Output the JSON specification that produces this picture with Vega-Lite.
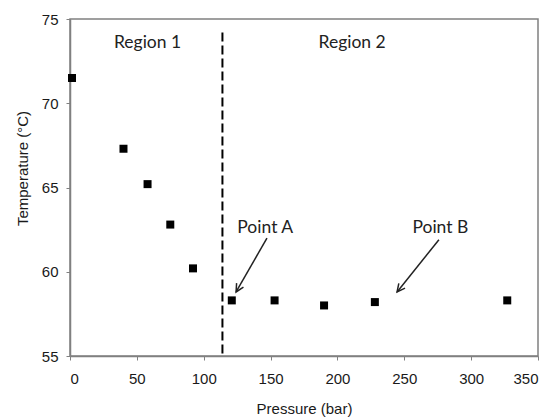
{
  "$schema": "https://vega.github.io/schema/vega-lite/v6.json",
  "width": 468,
  "height": 337,
  "autosize": {"type": "none"},
  "padding": {"left": 70, "top": 19, "right": 17, "bottom": 62},
  "background": "white",
  "config": {
    "view": {"stroke": "#808080", "strokeWidth": 1.5},
    "axis": {
      "grid": false,
      "domainColor": "#808080",
      "domainWidth": 1.5,
      "tickColor": "#808080",
      "tickSize": 4,
      "labelFont": "Liberation Sans",
      "labelFontSize": 15,
      "labelColor": "#1a1a1a",
      "titleFont": "Liberation Sans",
      "titleFontSize": 15,
      "titleFontWeight": "normal",
      "titleColor": "#1a1a1a"
    }
  },
  "datasets": {
    "points": [
      {"pressure": 1.5, "temperature": 71.5},
      {"pressure": 40, "temperature": 67.3},
      {"pressure": 58, "temperature": 65.2},
      {"pressure": 75, "temperature": 62.8},
      {"pressure": 92, "temperature": 60.2},
      {"pressure": 121, "temperature": 58.3},
      {"pressure": 153, "temperature": 58.3},
      {"pressure": 190, "temperature": 58.0},
      {"pressure": 228, "temperature": 58.2},
      {"pressure": 327, "temperature": 58.3}
    ],
    "divider": [{"pressure": 114, "temperature": 74.2, "temperature_end": 55}],
    "labels": [
      {"label": "Region 1", "pressure": 58, "temperature": 73.6},
      {"label": "Region 2", "pressure": 211, "temperature": 73.6},
      {"label": "Point A", "pressure": 146, "temperature": 62.6},
      {"label": "Point B", "pressure": 277, "temperature": 62.6}
    ],
    "arrows": [
      {"label": "Point A", "pressure": 147.3, "temperature": 62.0, "pressure_end": 124.2, "temperature_end": 58.8},
      {"label": "Point B", "pressure": 275.9, "temperature": 61.9, "pressure_end": 244.6, "temperature_end": 58.8}
    ]
  },
  "layer": [
    {
      "data": {"name": "points"},
      "mark": {"type": "point", "shape": "square", "filled": true, "color": "black", "opacity": 1, "size": 64},
      "encoding": {
        "x": {"field": "pressure", "type": "quantitative", "title": "Pressure (bar)",
              "scale": {"domain": [0, 350], "nice": false, "zero": false},
              "axis": {"values": [0, 50, 100, 150, 200, 250, 300, 350], "labelPadding": 11, "titleY": 52, "titleBaseline": "middle"}},
        "y": {"field": "temperature", "type": "quantitative", "title": "Temperature (°C)",
              "scale": {"domain": [55, 75], "nice": false, "zero": false},
              "axis": {"values": [55, 60, 65, 70, 75], "labelPadding": 8, "titleX": -48, "titleY": 149, "titleBaseline": "middle"}}
      }
    },
    {
      "data": {"name": "divider"},
      "mark": {"type": "rule", "color": "black", "strokeWidth": 2, "strokeDash": [9, 4]},
      "encoding": {
        "x": {"field": "pressure", "type": "quantitative", "title": "Pressure (bar)"},
        "y": {"field": "temperature", "type": "quantitative", "title": "Temperature (°C)"},
        "y2": {"field": "temperature_end"}
      }
    },
    {
      "data": {"name": "labels"},
      "mark": {"type": "text", "font": "Lato", "fontSize": 17.5, "color": "#222222", "align": "center", "baseline": "middle"},
      "encoding": {
        "x": {"field": "pressure", "type": "quantitative", "title": "Pressure (bar)"},
        "y": {"field": "temperature", "type": "quantitative", "title": "Temperature (°C)"},
        "text": {"field": "label"}
      }
    },
    {
      "data": {"name": "arrows"},
      "mark": {"type": "rule", "color": "#222222", "strokeWidth": 1.5},
      "encoding": {
        "x": {"field": "pressure", "type": "quantitative", "title": "Pressure (bar)"},
        "y": {"field": "temperature", "type": "quantitative", "title": "Temperature (°C)"},
        "x2": {"field": "pressure_end"},
        "y2": {"field": "temperature_end"}
      }
    },
    {
      "data": {"name": "arrows"},
      "transform": [{"filter": "datum.label === 'Point A'"}],
      "mark": {"type": "point", "shape": "M-0.5,1L0,0L0.5,1", "filled": false, "color": "#222222", "strokeWidth": 1.5, "opacity": 1, "size": 250, "angle": 210},
      "encoding": {
        "x": {"field": "pressure_end", "type": "quantitative", "title": "Pressure (bar)"},
        "y": {"field": "temperature_end", "type": "quantitative", "title": "Temperature (°C)"}
      }
    },
    {
      "data": {"name": "arrows"},
      "transform": [{"filter": "datum.label === 'Point B'"}],
      "mark": {"type": "point", "shape": "M-0.5,1L0,0L0.5,1", "filled": false, "color": "#222222", "strokeWidth": 1.5, "opacity": 1, "size": 250, "angle": 218},
      "encoding": {
        "x": {"field": "pressure_end", "type": "quantitative", "title": "Pressure (bar)"},
        "y": {"field": "temperature_end", "type": "quantitative", "title": "Temperature (°C)"}
      }
    }
  ]
}
